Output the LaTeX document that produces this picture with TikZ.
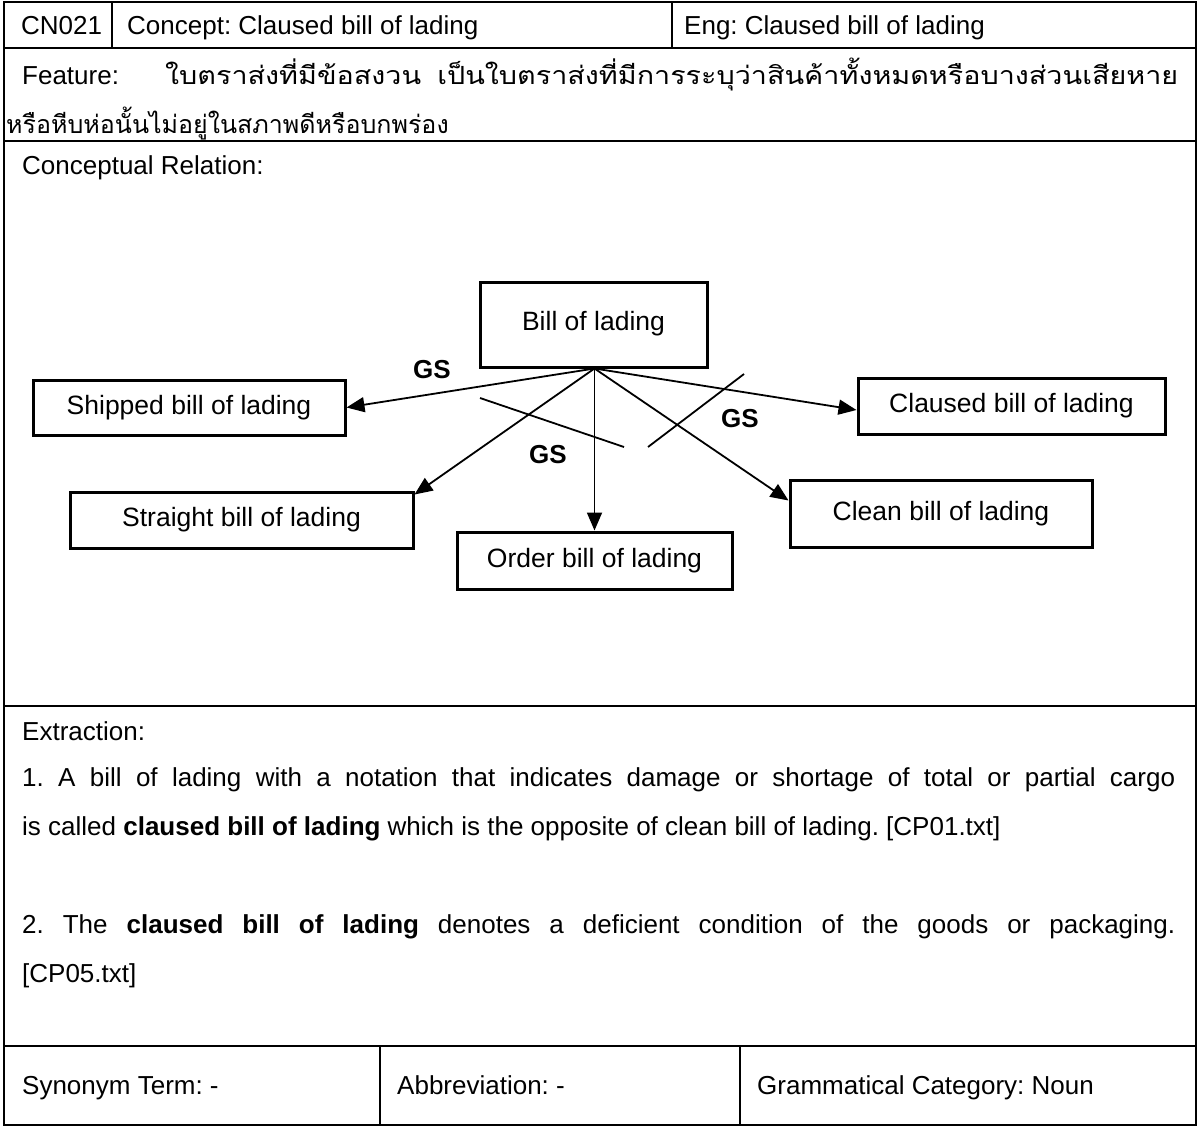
\documentclass[tikz,border=0pt]{standalone}
\usepackage{fontspec}
\usepackage{graphicx}
\setmainfont{Liberation Sans}
\newfontfamily\thaifont[Script=Thai]{Loma}
\usetikzlibrary{arrows.meta}
\frenchspacing
\begin{document}
\begin{tikzpicture}[x=1pt,y=-1pt,
  rule/.style={line width=2pt},
  txt/.style={anchor=base west, inner sep=0pt, font=\fontsize{26}{30}\selectfont},
  cbox/.style={draw, line width=3pt, inner sep=0pt, font=\fontsize{26.5}{30}\selectfont},
  rel/.style={line width=1.8pt, -{Triangle[length=18pt,width=15pt]}},
  plain/.style={line width=1.8pt},
  gs/.style={inner sep=0pt, font=\fontsize{26}{30}\selectfont\bfseries},
]
\useasboundingbox (0,0) rectangle (1199,1127);
\fill[white] (0,0) rectangle (1199,1127);

% table rules
\draw[rule] (4,2) rectangle (1196,1125);
\draw[rule] (4,48) -- (1196,48);
\draw[rule] (112,2) -- (112,48);
\draw[rule] (672,2) -- (672,48);
\draw[rule] (4,141) -- (1196,141);
\draw[rule] (4,706) -- (1196,706);
\draw[rule] (4,1046) -- (1196,1046);
\draw[rule] (380,1046) -- (380,1125);
\draw[rule] (740,1046) -- (740,1125);

% header row
\node[txt] (id) at (21,34) {CN021};
\node[txt] (concept) at (127,34) {Concept: Claused bill of lading};
\node[txt] (eng) at (684,34) {Eng: Claused bill of lading};

% feature
\node[txt] (feat) at (22,84) {Feature:};
\node[txt] (th1) at (165,84) {\resizebox{1013pt}{\height}{\fontsize{25}{30}\thaifont ใบตราส่งที่มีข้อสงวน\hspace{14pt}เป็นใบตราส่งที่มีการระบุว่าสินค้าทั้งหมดหรือบางส่วนเสียหาย}};
\node[txt] (th2) at (6,133) {\fontsize{25}{30}\thaifont หรือหีบห่อนั้นไม่อยู่ในสภาพดีหรือบกพร่อง};

% conceptual relation
\node[txt] (crel) at (22,174) {Conceptual Relation:};

\node[cbox, minimum width=227pt, minimum height=85pt] (bill) at (593.5,324.5) {\raisebox{7pt}{Bill of lading}};
\node[cbox, minimum width=312pt, minimum height=55pt] (shipped) at (189,407.5) {Shipped bill of lading};
\node[cbox, minimum width=307pt, minimum height=56pt] (claused) at (1011.5,406) {Claused bill of lading};
\node[cbox, minimum width=343pt, minimum height=56pt] (straight) at (241.5,520) {Straight bill of lading};
\node[cbox, minimum width=275pt, minimum height=57pt] (order) at (594.5,560.5) {Order bill of lading};
\node[cbox, minimum width=302pt, minimum height=67pt] (clean) at (941,513.5) {\raisebox{-4pt}{Clean bill of lading}};

\coordinate (hub) at ([xshift=1pt]bill.south);
\draw[rel] (hub) -- (shipped.east);
\draw[rel] (hub) -- ([yshift=-4pt]straight.north east);
\draw[rel] (hub) -- (order.north);
\draw[rel] (hub) -- ([yshift=13pt]clean.west);
\draw[rel] (hub) -- ([yshift=-4pt]claused.west);

% crossing strokes
\coordinate (x1a) at (480,398);
\coordinate (x1b) at (624,447);
\coordinate (x2a) at (648,447);
\coordinate (x2b) at (744,374);
\draw[plain] (x1a) -- (x1b);
\draw[plain] (x2a) -- (x2b);

\node[gs] (gs1) at (432,370) {GS};
\node[gs] (gs2) at (548,455) {GS};
\node[gs] (gs3) at (740,419) {GS};

% extraction
\node[txt] (ext) at (22,740) {Extraction:};
\node[txt] (e1) at (22,786) {\makebox[1153pt][s]{1. A bill of lading with a notation that indicates damage or shortage of total or partial cargo}};
\node[txt] (e2) at (22,835) {is called \textbf{claused bill of lading} which is the opposite of clean bill of lading. [CP01.txt]};
\node[txt] (e3) at (22,933) {\makebox[1153pt][s]{2. The \textbf{claused bill of lading} denotes a deficient condition of the goods or packaging.}};
\node[txt] (e4) at (22,982) {[CP05.txt]};

% bottom row
\node[txt] (syn) at (22,1094) {Synonym Term: -};
\node[txt] (abbr) at (397,1094) {Abbreviation: -};
\node[txt] (gram) at (757,1094) {Grammatical Category: Noun};
\end{tikzpicture}
\end{document}
